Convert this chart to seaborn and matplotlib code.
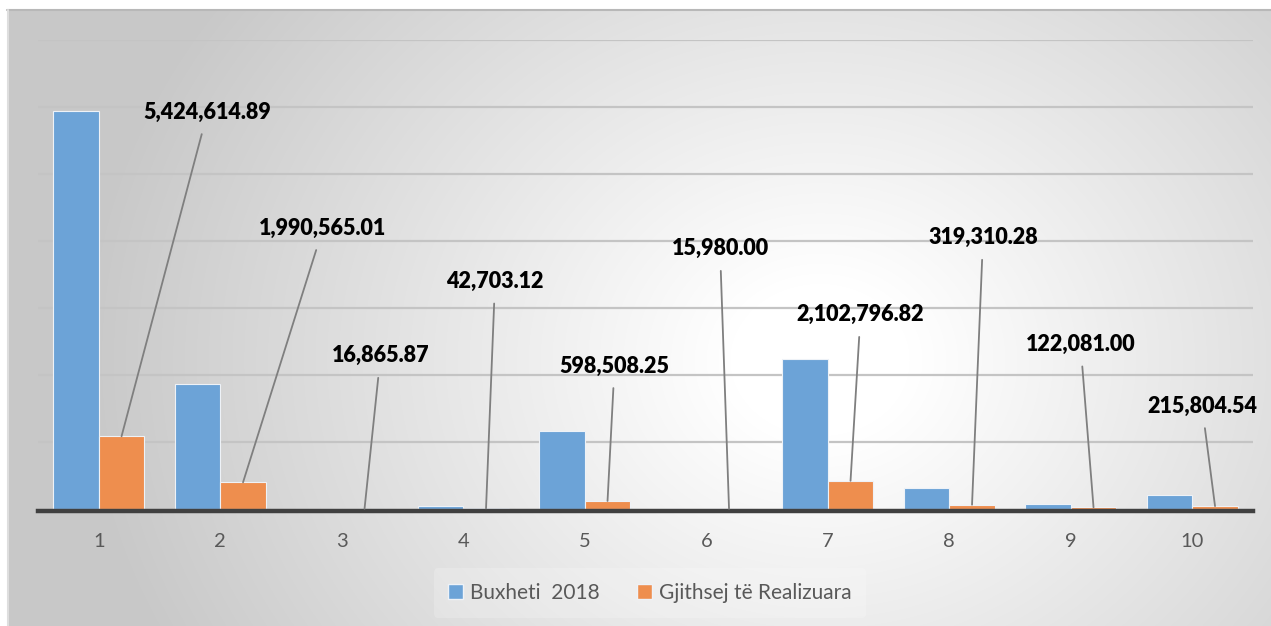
import numpy as np
import pandas as pd
import matplotlib
matplotlib.use("Agg")
import matplotlib.pyplot as plt
import seaborn as sns
from matplotlib.patches import Patch

# ---- data ----
categories = ["1", "2", "3", "4", "5", "6", "7", "8", "9", "10"]
budget_2018 = [29.70e6, 9.31e6, 25000, 220000, 5.81e6, 20000, 11.22e6, 1.54e6, 0.40e6, 1.04e6]
realized = [5424614.89, 1990565.01, 16865.87, 42703.12, 598508.25,
            15980.00, 2102796.82, 319310.28, 122081.00, 215804.54]
realized_labels = ["5,424,614.89", "1,990,565.01", "16,865.87", "42,703.12", "598,508.25",
                   "15,980.00", "2,102,796.82", "319,310.28", "122,081.00", "215,804.54"]
series_names = ["Buxheti  2018", "Gjithsej të Realizuara"]

# label offsets (pixels) relative to the top of each orange bar
label_dx = [86, 80, 16, 9, 7, -9, 10, 11, -13, -13]
label_dy = [324, 254, 153, 227, 135, 260, 166, 267, 163, 100]

df = pd.DataFrame({
    "cat": categories * 2,
    "value": budget_2018 + realized,
    "series": [series_names[0]] * 10 + [series_names[1]] * 10,
})

sns.set_theme(style="white")
plt.rcParams["font.family"] = ["Lato", "DejaVu Sans"]

W, H = 1271, 626
fig = plt.figure(figsize=(W / 100, H / 100), dpi=100, facecolor="white")

# background radial gradient panel
bg = fig.add_axes([7 / W, 0, 1 - 7 / W, 1 - 10 / H])
yy, xx = np.mgrid[10:H, 7:W]
r = np.sqrt(((xx - 820) / 1.0) ** 2 + ((yy - 360) / 0.85) ** 2)
t = np.clip((r - 90) / 650, 0, 1)
c = 1 - 0.215 * t
img = np.dstack([c, c, c])
bg.imshow(img, aspect="auto", interpolation="bilinear")
bg.set_axis_off()
fig.add_artist(plt.Line2D([7 / W, 1], [1 - 9.5 / H, 1 - 9.5 / H], color="#b8b8b8", lw=1.5, transform=fig.transFigure))
fig.add_artist(plt.Line2D([7.5 / W, 7.5 / W], [0, 1 - 10 / H], color="#dedede", lw=1.5, transform=fig.transFigure))

# main axes
x0, x1 = 38, 1253
ytop, ybase = 40, 509
ax = fig.add_axes([x0 / W, (H - ybase) / H, (x1 - x0) / W, (ybase - ytop) / H])
ax.patch.set_alpha(0)

palette = {series_names[0]: "#6CA3D7", series_names[1]: "#EE8E4E"}
sns.barplot(data=df, x="cat", y="value", hue="series", order=categories,
            hue_order=series_names, palette=palette, width=0.75, gap=0,
            edgecolor="#eef2f7", linewidth=0.8, saturation=1, ax=ax, legend=False, zorder=3)

ax.set_xlim(-0.5, 9.5)
ax.set_ylim(0, 35e6)
ax.set_yticks(np.arange(5e6, 35.1e6, 5e6))
ax.yaxis.grid(True, color="#c4c4c4", lw=1.6, zorder=0)
ax.set_axisbelow(True)
ax.tick_params(axis="y", left=False, labelleft=False)
ax.tick_params(axis="x", bottom=False, pad=10, labelsize=14.5, labelcolor="#595959")
for s in ["top", "right", "left"]:
    ax.spines[s].set_visible(False)
ax.spines["bottom"].set_color("#404040")
ax.spines["bottom"].set_linewidth(3.2)
ax.spines["bottom"].set_position(("outward", 1.6))
ax.spines["bottom"].set_zorder(4)
ax.set_xlabel("")
ax.set_ylabel("")

# data labels with leader lines
for i, p in enumerate(ax.containers[1].patches):
    bx = p.get_x() + p.get_width() / 2
    by = p.get_height()
    ax.annotate(realized_labels[i], xy=(bx, by), xytext=(label_dx[i], label_dy[i]),
                textcoords="offset pixels", ha="center", va="center",
                fontsize=15.5, fontweight="heavy", color="black", zorder=5,
                arrowprops=dict(arrowstyle="-", color="#7f7f7f", lw=1.3,
                                shrinkA=6, shrinkB=0, relpos=(0.5, 0.5)))

# legend
handles = [Patch(facecolor=palette[n], edgecolor="#eef2f7", label=n) for n in series_names]
leg = fig.legend(handles=handles, loc="center", bbox_to_anchor=(650 / W, 1 - 593 / H),
                 ncol=2, frameon=True, fontsize=15, handlelength=0.7, handleheight=0.7,
                 handletextpad=0.35, columnspacing=1.8, borderpad=0.7)
leg.get_frame().set_facecolor("white")
leg.get_frame().set_alpha(0.2)
leg.get_frame().set_edgecolor("none")
for tx in leg.get_texts():
    tx.set_color("#595959")

fig.savefig("out.png", dpi=100, facecolor="white")
